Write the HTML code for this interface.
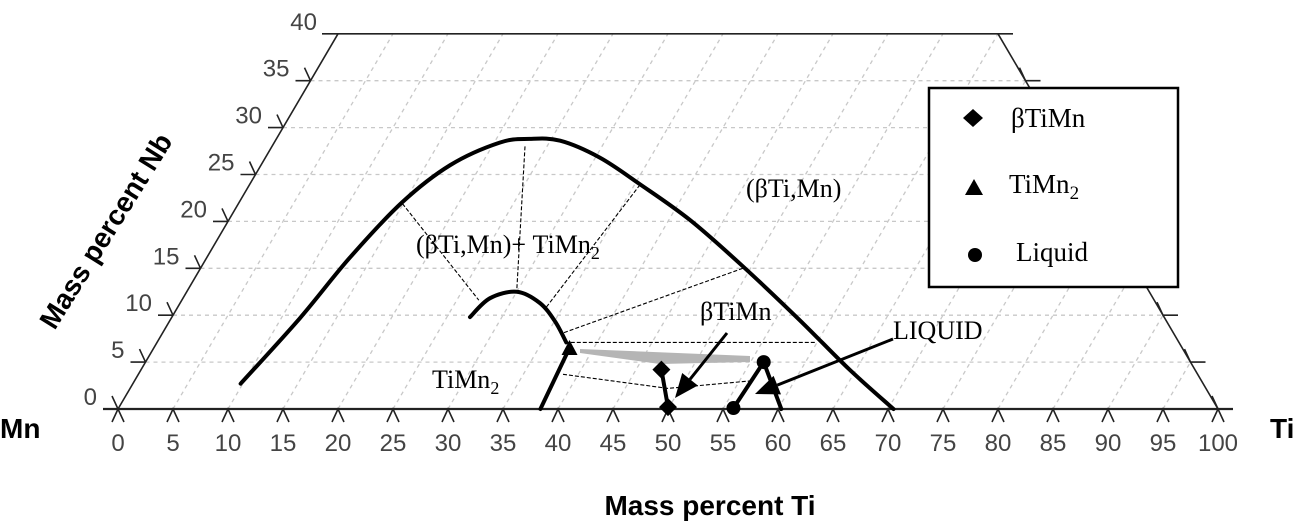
<!DOCTYPE html>
<html><head><meta charset="utf-8"><style>
body{margin:0;background:#fff;}
svg{display:block;}
.tick{font-family:"Liberation Sans",sans-serif;font-size:24px;fill:#444;}
.lab{font-family:"Liberation Serif",serif;font-size:26px;fill:#000;}
.leg{font-family:"Liberation Serif",serif;font-size:27px;fill:#000;}
.ax{font-family:"Liberation Sans",sans-serif;font-weight:bold;font-size:28px;fill:#000;}
</style></head><body>
<svg id="chart" width="1302" height="523" viewBox="0 0 1302 523" xmlns="http://www.w3.org/2000/svg">
<g id="grid"></g>
<g id="axes"></g>
<g id="marks"></g>
<text class="lab" x="746" y="197" font-size="28">(βTi,Mn)</text>
<text class="lab" x="416" y="253">(βTi,Mn)+ TiMn<tspan font-size="18" dy="6">2</tspan></text>
<text class="lab" x="700" y="320">βTiMn</text>
<text class="lab" x="893" y="339">LIQUID</text>
<text class="lab" x="432" y="388">TiMn<tspan font-size="18" dy="6">2</tspan></text>
<text class="ax" x="0" y="438">Mn</text>
<text class="ax" x="1270" y="438">Ti</text>
<text class="ax" x="710" y="515" text-anchor="middle">Mass percent Ti</text>
<text class="ax" x="0" y="0" text-anchor="middle" transform="translate(114,236) rotate(-58)">Mass percent Nb</text>
<g>
<rect x="929" y="88" width="249" height="199" fill="#fff" stroke="#000" stroke-width="2.5"/>
<path d="M973,109 L983,118 L973,127 L963,118Z" fill="#000"/>
<text class="leg" x="1011" y="127">βTiMn</text>
<path d="M974,179 L983,195 L965,195Z" fill="#000"/>
<text class="leg" x="1009" y="193">TiMn<tspan font-size="19" dy="6">2</tspan></text>
<circle cx="975" cy="255" r="7" fill="#000"/>
<text class="leg" x="1016" y="261">Liquid</text>
</g>
</svg>
<script>
const tiTicks=[0,5,10,15,20,25,30,35,40,45,50,55,60,65,70,75,80,85,90,95,100];
const nbTicks=[0,5,10,15,20,25,30,35,40];
const domeTi=[9.8,11.7,13.0,14.8,17.2,20.5,23.0,25.9,30.4,35.4,42.0,49.5,57.2,64.4,70.5];
const domeNb=[2.7,9.7,16.1,22.0,26.0,28.4,28.8,28.6,26.8,24.0,20.1,15.0,9.5,4.2,0];
const smallTi=[27.1,27.9,30.0,32.7,35.1,37.2];
const smallNb=[9.8,11.8,12.5,11.3,9.3,7.1];
const timn2Ti=[38.4,37.8]; const timn2Nb=[0,6.5];
const betaTi=[49.9,47.3]; const betaNb=[0.2,4.2];
const liqTi=[55.9,56.2,60.3]; const liqNb=[0.1,5.0,0];
const tieTi=[[14.9,27.0],[23.0,29.9],[35.5,33.5],[49.3,36.4],[59.8,37.2],[38.6,48.9,56.0]];
const tieNb=[[21.9,11.6],[28.0,12.7],[23.9,10.8],[15.0,8.1],[7.1,7.1],[3.7,2.2,3.0]];
const X0=118,SX=11,Y0=409,SY=9.38;
const px=(ti,nb)=>X0+SX*(ti+nb/2), py=nb=>Y0-SY*nb;
const NS='http://www.w3.org/2000/svg';
function mk(p,tag,a){const e=document.createElementNS(NS,tag);for(const k in a)e.setAttribute(k,a[k]);p.appendChild(e);return e;}
function smooth(T,N){const P=T.map((t,i)=>[px(t,N[i]),py(N[i])]);let d=`M${P[0][0]},${P[0][1]}`;
for(let i=0;i<P.length-1;i++){const p0=P[Math.max(0,i-1)],p1=P[i],p2=P[i+1],p3=P[Math.min(P.length-1,i+2)];
d+=` C${p1[0]+(p2[0]-p0[0])/6},${p1[1]+(p2[1]-p0[1])/6} ${p2[0]-(p3[0]-p1[0])/6},${p2[1]-(p3[1]-p1[1])/6} ${p2[0]},${p2[1]}`;}return d;}
const grid=document.getElementById('grid'),axes=document.getElementById('axes'),marks=document.getElementById('marks');
const gs={stroke:'#c8c8c8','stroke-width':1.3,'stroke-dasharray':'4,4',fill:'none'};
for(let n=5;n<40;n+=5){const l=mk(grid,'line',Object.assign({x1:px(0,n),y1:py(n),x2:px(100-n,n),y2:py(n)},gs));

}
for(let t=5;t<100;t+=5){const top=Math.min(40,100-t);
const a=mk(grid,'line',Object.assign({x1:px(t,0),y1:py(0),x2:px(t,top),y2:py(top)},gs));

}
const ls={stroke:'#222','stroke-width':1.6,fill:'none'};
let e;
e=mk(axes,'line',Object.assign({x1:103,y1:py(0),x2:1233,y2:py(0)},ls,{'stroke-width':2.2}));


e=mk(axes,'line',Object.assign({x1:px(0,0),y1:py(0),x2:px(0,40),y2:py(40)},ls));


e=mk(axes,'line',Object.assign({x1:px(100,0),y1:py(0),x2:px(60,40),y2:py(40)},ls));


e=mk(axes,'line',Object.assign({x1:322,y1:py(40),x2:1013,y2:py(40)},ls));


tiTicks.forEach(t=>{const x=px(t,0),y=py(0);
const p=mk(axes,'path',Object.assign({d:`M${x-6},${y+13} L${x},${y} L${x+6},${y+13}`},ls));


const tx=mk(axes,'text',{x:x,y:y+42,'text-anchor':'middle',class:'tick'});tx.textContent=t;

});
nbTicks.forEach(n=>{const x=px(0,n),y=py(n);
if(n<40){const p=mk(axes,'path',Object.assign({d:`M${x-15},${y} L${x},${y} M${x-6},${y-13} L${x},${y}`},ls));


const xr=px(100-n,n);
const q=mk(axes,'path',Object.assign({d:`M${xr+15},${y} L${xr},${y} M${xr-6},${y-13} L${xr},${y}`},ls));

}
const tx=mk(axes,'text',{x:x-21,y:y-4,'text-anchor':'end',class:'tick'});tx.textContent=n;

});
const pts=(T,N)=>T.map((t,i)=>px(t,N[i]).toFixed(1)+','+py(N[i]).toFixed(1)).join(' ');
tieTi.forEach((T,i)=>{const l=mk(marks,'polyline',{points:pts(T,tieNb[i]),stroke:'#000','stroke-width':1.1,'stroke-dasharray':'4,2',fill:'none'});

});
e=mk(marks,'polygon',{points:'580,349 750,356 750,362 660,364 580,353',fill:'#b5b5b5'});


const thick={stroke:'#000','stroke-width':4,fill:'none','stroke-linejoin':'round','stroke-linecap':'round'};
e=mk(marks,'path',Object.assign({d:smooth(domeTi,domeNb)},thick));


e=mk(marks,'path',Object.assign({d:smooth(smallTi,smallNb)},thick));


e=mk(marks,'polyline',Object.assign({points:pts(timn2Ti,timn2Nb)},thick));


e=mk(marks,'polyline',Object.assign({points:pts(betaTi,betaNb)},thick));


e=mk(marks,'polyline',Object.assign({points:pts(liqTi,liqNb)},thick));


{const x=px(timn2Ti[1],timn2Nb[1]),y=py(timn2Nb[1]);
e=mk(marks,'path',{d:`M${x},${y-8} L${x+8},${y+7} L${x-8},${y+7}Z`,fill:'#000'});

}
betaTi.forEach((t,i)=>{const x=px(t,betaNb[i]),y=py(betaNb[i]);
const d=mk(marks,'path',{d:`M${x},${y-9} L${x+9},${y} L${x},${y+9} L${x-9},${y}Z`,fill:'#000'});

});
[0,1].forEach(i=>{const c=mk(marks,'circle',{cx:px(liqTi[i],liqNb[i]),cy:py(liqNb[i]),r:7,fill:'#000'});

});
function arrow(x1,y1,x2,y2,name){const a=Math.atan2(y2-y1,x2-x1),L=24,W=10;
const bx=x2-L*Math.cos(a),by=y2-L*Math.sin(a);
const l=mk(marks,'line',{x1:x1,y1:y1,x2:bx,y2:by,stroke:'#000','stroke-width':3});


const h=mk(marks,'path',{d:`M${x2},${y2} L${bx-W*Math.sin(a)},${by+W*Math.cos(a)} L${bx+W*Math.sin(a)},${by-W*Math.cos(a)}Z`,fill:'#000'});

}
arrow(727,333,675,398,'beta-timn-arrow');
arrow(893,339,755,394,'liquid-arrow');
</script>
</body></html>
